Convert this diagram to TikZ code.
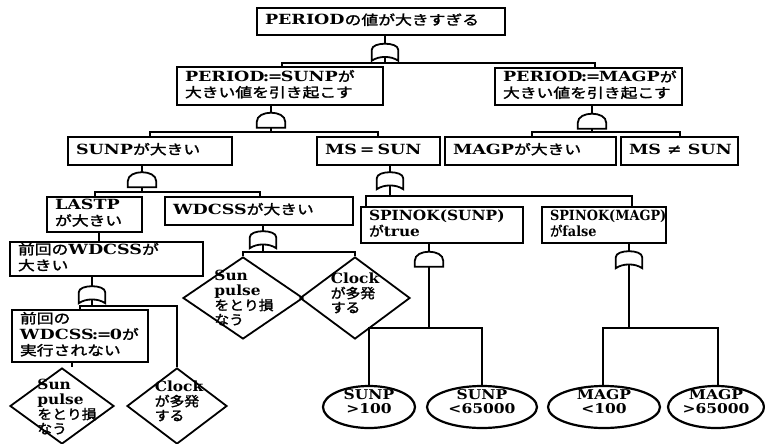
\documentclass[tikz,border=0pt]{standalone}
\usepackage{fontspec}
\usepackage{graphicx}
\setmainfont{DejaVu Serif}
\newfontfamily\jpf[Scale=0.96,FakeBold=1.6]{Noto Sans CJK JP}
\usetikzlibrary{shapes.geometric,calc}
\newcommand\J[1]{{\jpf\mdseries #1}}
\newcommand\TX[2][1.25]{\scalebox{#1}[1]{\begin{tabular}{@{}l@{}}#2\end{tabular}}}
\newcommand\TC[2][1.15]{\scalebox{#1}[1]{\begin{tabular}{@{}c@{}}#2\end{tabular}}}
\newcommand\BT[3][1.25]{\makebox[#2pt][l]{\hspace{8pt}\TX[#1]{#3}}}
\newcommand\ZT[1]{\makebox[0pt]{\smash{#1}}}
\newcommand\ASG{\kern-1.5pt:\kern-1pt=\kern-1.5pt}
\newcommand\ANDG[1]{\draw[gate] (#1.south west) -- ++(0,-6) .. controls +(0,-12) and +(0,-12) .. ($(#1.south east)+(0,-6)$) -- (#1.south east) -- cycle;}
\newcommand\ORG[1]{\draw[gate] (#1.south west) -- ++(0,-11) .. controls +(0,-8) and +(0,-8) .. ($(#1.south east)+(0,-11)$) -- (#1.south east) .. controls +(-7,-5) and +(7,-5) .. (#1.south west) -- cycle;}
\begin{document}
\begin{tikzpicture}[x=1pt,y=-1pt,
  wire/.style={line width=1.2pt},
  gate/.style={line width=1.8pt},
  box/.style={draw, line width=2.2pt, inner sep=0pt, font=\fontsize{14}{15.5}\selectfont\bfseries},
  andn/.style={inner sep=0pt, minimum width=28pt, minimum height=15pt},
  orn/.style={inner sep=0pt, minimum width=26pt, minimum height=17pt},
  dia/.style={draw, diamond, line width=1.8pt, inner sep=0pt, font=\fontsize{14}{12.5}\selectfont\bfseries},
  ell/.style={draw, ellipse, line width=2.2pt, inner sep=0pt, minimum height=42pt, font=\fontsize{13.5}{13}\selectfont\bfseries}]
\useasboundingbox (0,0) rectangle (765,444);

% boxes
\node[box, minimum width=248, minimum height=27] (T) at (381,21.5) {\BT{248}{PERIOD\J{の値が大きすぎる}}};
\node[box, minimum width=206, minimum height=38] (B1) at (280,86) {\BT{206}{PERIOD\ASG SUNP\J{が}\\\J{大きい値を引き起こす}}};
\node[box, minimum width=187, minimum height=37] (B2) at (588.5,86.5) {\BT{187}{PERIOD\ASG MAGP\J{が}\\\J{大きい値を引き起こす}}};
\node[box, minimum width=164, minimum height=28] (S) at (150,151) {\BT{164}{SUNP\J{が大きい}}};
\node[box, minimum width=123, minimum height=28] (M) at (378.5,151) {\BT{123}{MS\,=\,SUN}};
\node[box, minimum width=171, minimum height=28] (MG) at (530.5,151) {\BT{171}{MAGP\J{が大きい}}};
\node[box, minimum width=117, minimum height=28] (MN) at (679.5,151) {\BT{117}{MS ≠ SUN}};
\node[box, minimum width=95, minimum height=35] (L) at (94.5,214.5) {\BT{95}{LASTP\\\J{が大きい}}};
\node[box, minimum width=188, minimum height=28] (WD) at (259,211) {\BT{188}{WDCSS\J{が大きい}}};
\node[box, minimum width=162, minimum height=36] (SP1) at (442,225) {\BT[1.1]{162}{SPINOK(SUNP)\\\J{が}true}};
\node[box, minimum width=124, minimum height=36] (SP2) at (604,225) {\BT[0.92]{124}{SPINOK(MAGP)\\\J{が}false}};
\node[box, minimum width=193, minimum height=34] (PW) at (106.5,259) {\BT{193}{\J{前回の}WDCSS\J{が}\\\J{大きい}}};
\node[box, minimum width=136, minimum height=52] (PN) at (80,336) {\BT{136}{\J{前回の}\\WDCSS\ASG 0\J{が}\\\J{実行されない}}};

% gates
\node[orn] (G1) at (385,52) {};
\node[andn] (G2) at (271,120) {};
\node[andn] (G3) at (592,121) {};
\node[andn] (G4) at (142,179.5) {};
\node[orn] (G5) at (390,180.5) {};
\node[andn] (G6) at (429,259) {};
\node[orn] (G7) at (629,259.5) {};
\node[orn] (G8) at (263,239.5) {};
\node[orn] (G9) at (92,294.5) {};
\ORG{G1} \ANDG{G2} \ANDG{G3} \ANDG{G4} \ORG{G5} \ANDG{G6} \ORG{G7} \ORG{G8} \ORG{G9}

% diamonds
\node[dia, minimum width=120, minimum height=82] (D1) at (243,298) {\ZT{\hspace{2pt}\raisebox{-5pt}{\TX[1.1]{Sun\\pulse\\\J{をとり損}\\\J{なう}}}}};
\node[dia, minimum width=110, minimum height=82] (D2) at (355,298) {\ZT{\TX[1.1]{Clock\\\J{が多発}\\\J{する}}}};
\node[dia, minimum width=104, minimum height=76] (D3) at (62,406) {\ZT{\hspace{10pt}\raisebox{-6pt}{\TX[1.1]{Sun\\pulse\\\J{をとり損}\\\J{なう}}}}};
\node[dia, minimum width=100, minimum height=76] (D4) at (177,406) {\ZT{\hspace{4pt}\TX[1.1]{Clock\\\J{が多発}\\\J{する}}}};

% ellipses
\node[ell, minimum width=92] (E1) at (369,407) {\ZT{\TC{SUNP\\>100}}};
\node[ell, minimum width=110] (E2) at (482,407) {\ZT{\TC{SUNP\\<65000}}};
\node[ell, minimum width=112] (E3) at (604,407) {\ZT{\TC{MAGP\\<100}}};
\node[ell, minimum width=96] (E4) at (716,407) {\ZT{\TC{MAGP\\>65000}}};

% junctions
\coordinate (j1) at (385,63);
\coordinate (j2) at (271,132);
\coordinate (j3) at (592,132);
\coordinate (j4) at (142,192);
\coordinate (j5) at (390,196);
\coordinate (j6) at (429,328);
\coordinate (j7) at (629,328);
\coordinate (j8) at (263,252);
\coordinate (j9) at (92,306);

% parent -> gate stems
\draw[wire] (T.south -| G1.north) -- (G1.north);
\draw[wire] (B1.south -| G2.north) -- (G2.north);
\draw[wire] (B2.south -| G3.north) -- (G3.north);
\draw[wire] (S.south -| G4.north) -- (G4.north);
\draw[wire] (M.south -| G5.north) -- (G5.north);
\draw[wire] (SP1.south -| G6.north) -- (G6.north);
\draw[wire] (SP2.south -| G7.north) -- (G7.north);
\draw[wire] (WD.south -| G8.north) -- (G8.north);
\draw[wire] (PW.south -| G9.north) -- (G9.north);
\draw[wire] ([xshift=4.5pt]L.south) -- ([xshift=4.5pt]L.south |- PW.north);
\draw[wire] ([xshift=-8pt]PN.south) -- ([xshift=-8pt]PN.south |- D3.north);

% gate -> bus
\draw[wire] ([yshift=3.75pt]G1.south) -- (j1);
\draw[wire] (G2.south) -- (j2);
\draw[wire] (G3.south) -- (j3);
\draw[wire] (G4.south) -- (j4);
\draw[wire] ([yshift=3.75pt]G5.south) -- (j5);
\draw[wire] (G6.south) -- (j6);
\draw[wire] ([yshift=3.75pt]G7.south) -- (j7);
\draw[wire] ([yshift=3.75pt]G8.south) -- (j8);
\draw[wire] ([yshift=3.75pt]G9.south) -- (j9);

% buses to children
\draw[wire] ([xshift=2pt]B1.north) |- (j1) -| ([xshift=6.5pt]B2.north);
\draw[wire] (S.north) |- (j2) -| ([xshift=-0.5pt]M.north);
\draw[wire] ([xshift=1.5pt]MG.north) |- (j3) -| ([xshift=0.5pt]MN.north);
\draw[wire] ([xshift=0.5pt]L.north) |- (j4) -| ([xshift=1pt]WD.north);
\draw[wire] ([xshift=-76pt]SP1.north) |- (j5) -| ([xshift=28pt]SP2.north);
\draw[wire] (E1.north) |- (j6) -| (E2.north);
\draw[wire] ([xshift=-1pt]E3.north) |- (j7) -| ([xshift=2pt]E4.north);
\draw[wire] (D1.north) |- (j8) -| (D2.north);
\draw[wire] (PN.north) |- (j9) -| (D4.north);
\end{tikzpicture}
\end{document}
